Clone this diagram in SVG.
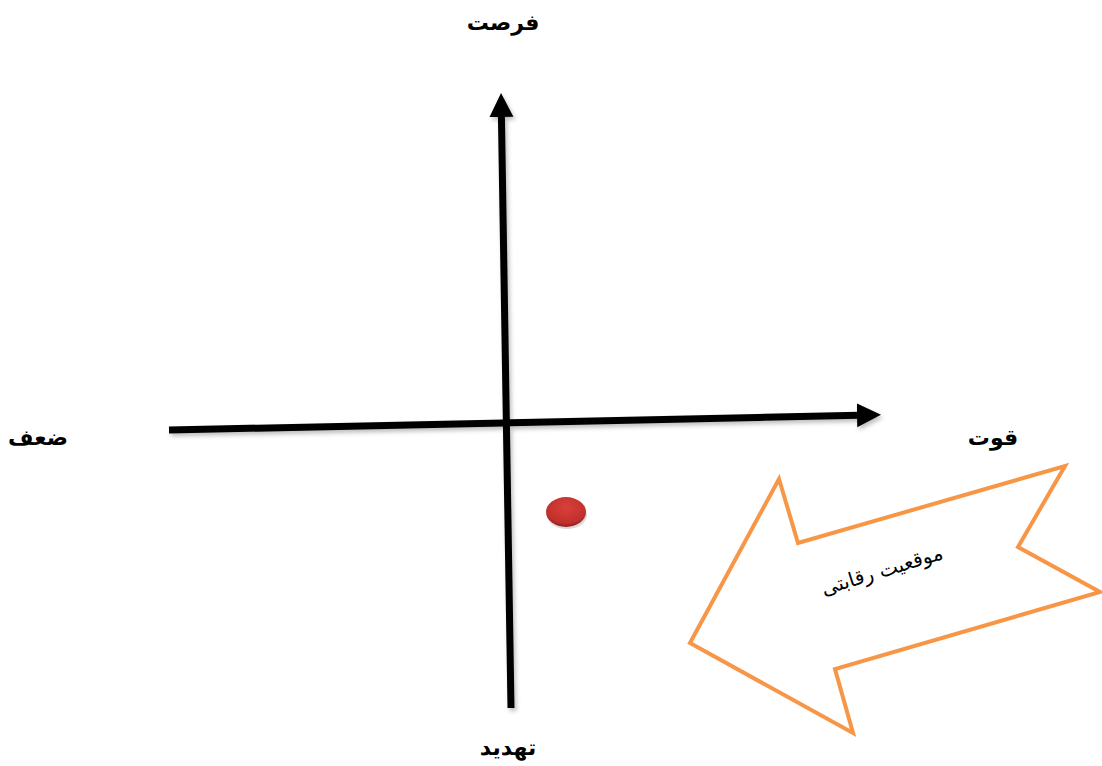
<svg xmlns="http://www.w3.org/2000/svg" width="1102" height="766" viewBox="0 0 1102 766">
  <style>
    .lbl { font-family: "DejaVu Sans", "Noto Sans", sans-serif; font-weight: bold; font-size: 22px; fill: #000; text-anchor: middle; }
    .axis { stroke: #000; stroke-width: 7; fill: none; }
    .shape { fill: #fff; stroke: #F79646; stroke-width: 4; stroke-linejoin: miter; }
    .inner { font-family: "DejaVu Sans", "Noto Sans", sans-serif; font-size: 20px; fill: #000; text-anchor: middle; }
  </style>
  <defs>
    <marker id="head" markerUnits="userSpaceOnUse" markerWidth="26" markerHeight="26" refX="2" refY="12" orient="auto">
      <path d="M0,0 L24,12 L0,24 Z" fill="#000"/>
    </marker>
    <filter id="sh" x="-10%" y="-10%" width="120%" height="120%">
      <feDropShadow dx="2" dy="3" stdDeviation="2" flood-color="#000" flood-opacity="0.25"/>
    </filter>
    <radialGradient id="red" cx="50%" cy="35%" r="65%">
      <stop offset="0" stop-color="#D9403A"/>
      <stop offset="0.8" stop-color="#C0302C"/>
      <stop offset="1" stop-color="#8E1E1C"/>
    </radialGradient>
  </defs>
  <rect width="1102" height="766" fill="#fff"/>

  <g id="connectors" filter="url(#sh)">
    <line class="axis" x1="511" y1="708" x2="501.4" y2="115" marker-end="url(#head)"/>
    <line class="axis" x1="169" y1="430" x2="859" y2="415.3" marker-end="url(#head)"/>
  </g>

  <g id="label-top"><text class="lbl" x="503" y="30">فرصت</text></g>
  <g id="label-left"><text class="lbl" x="38" y="445">ضعف</text></g>
  <g id="label-right"><text class="lbl" x="993" y="445">قوت</text></g>
  <g id="label-bottom"><text class="lbl" x="508" y="755">تهدید</text></g>

  <g id="point">
    <ellipse cx="567" cy="515" rx="20" ry="14" fill="#000" opacity="0.15"/>
    <ellipse cx="566" cy="512" rx="20" ry="15" fill="url(#red)"/>
  </g>

  <g id="arrow-shape">
    <polygon class="shape" points="779,479 798,543 1065,466 1018,547 1100,592 835,669 853,733 690,643"/>
    <text class="inner" transform="translate(884,577) rotate(-17)">موقعیت رقابتی</text>
  </g>
</svg>
